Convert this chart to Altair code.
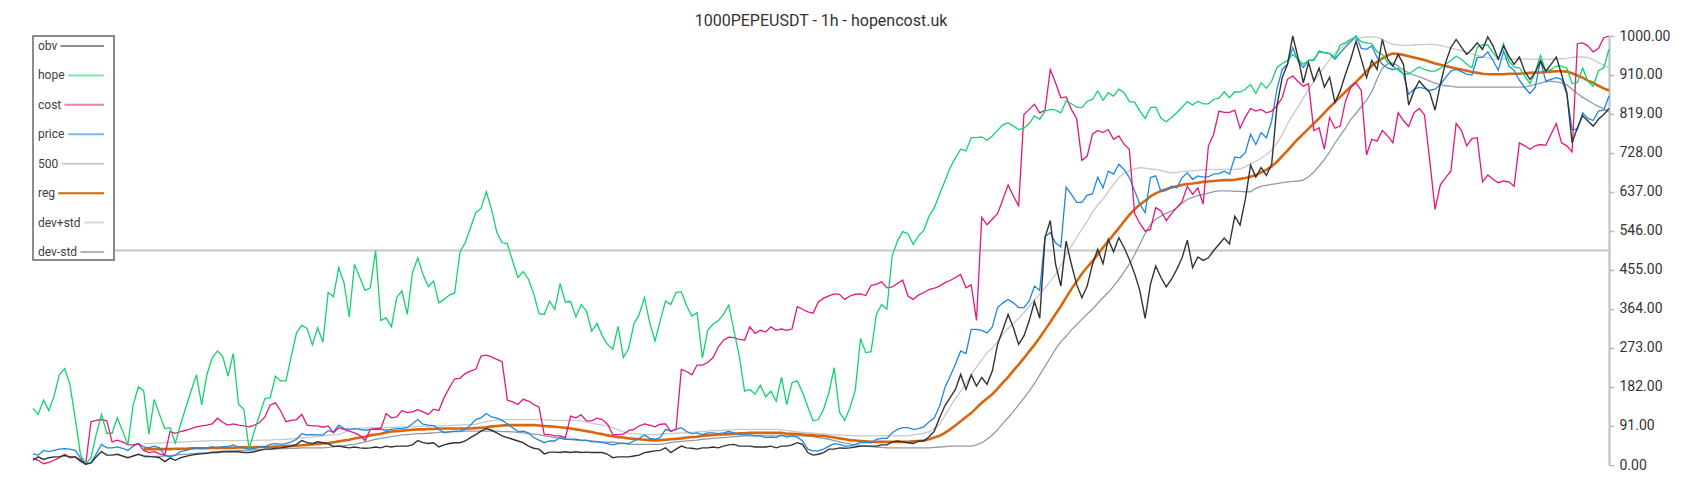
import altair as alt
import pandas as pd

TITLE = "1000PEPEUSDT - 1h - hopencost.uk"

obv = [
    11, 19, 13, 17, 19, 19, 22, 19, 19, 9,
    2, 5, 19, 31, 23, 23, 25, 21, 17, 21,
    25, 21, 20, 19, 17, 8, 16, 11, 17, 20,
    23, 25, 26, 27, 29, 29, 31, 31, 31, 31,
    29, 29, 31, 34, 37, 37, 39, 40, 42, 44,
    48, 57, 52, 50, 54, 52, 50, 43, 44, 42,
    40, 42, 40, 39, 40, 42, 40, 44, 42, 44,
    44, 44, 47, 57, 52, 50, 52, 42, 47, 50,
    52, 52, 56, 64, 71, 79, 85, 81, 75, 68,
    64, 60, 56, 52, 44, 39, 37, 26, 30, 30,
    29, 31, 29, 31, 29, 30, 29, 29, 29, 25,
    17, 19, 19, 19, 21, 23, 29, 31, 33, 34,
    40, 29, 37, 44, 40, 39, 37, 40, 40, 42,
    40, 44, 47, 48, 44, 44, 44, 42, 42, 42,
    44, 40, 44, 44, 47, 52, 48, 29, 23, 25,
    29, 37, 37, 40, 39, 40, 42, 44, 44, 44,
    44, 47, 47, 54, 56, 54, 52, 50, 56, 56,
    66, 79, 110, 138, 157, 176, 211, 176, 210, 184,
    204, 188, 219, 281, 316, 351, 320, 281, 301, 336,
    381, 342, 530, 570, 468, 417, 522, 468, 421, 390,
    417, 468, 503, 469, 526, 497, 530, 507, 479, 446,
    406, 342, 421, 464, 437, 415, 433, 456, 483, 524,
    460, 485, 477, 483, 500, 514, 529, 515, 580, 559,
    619, 699, 671, 693, 675, 701, 837, 903, 934, 1000,
    950, 891, 938, 895, 925, 881, 904, 845, 872, 911,
    946, 988, 946, 903, 943, 922, 992, 946, 930, 957,
    934, 839, 872, 895, 881, 868, 827, 887, 938, 973,
    992, 974, 957, 969, 984, 969, 998, 977, 946, 977,
    953, 934, 951, 918, 899, 915, 942, 918, 934, 951,
    911, 868, 751, 786, 814, 802, 790, 806, 817, 831,
]

hope = [
    132, 118, 151, 127, 161, 210, 225, 188, 110, 25,
    2, 17, 72, 118, 74, 74, 110, 79, 47, 140,
    182, 173, 72, 153, 118, 85, 87, 51, 95, 134,
    173, 210, 140, 211, 250, 266, 253, 207, 260, 141,
    130, 37, 79, 118, 155, 157, 207, 196, 196, 254,
    308, 326, 318, 280, 320, 286, 402, 392, 460, 425,
    345, 468, 437, 407, 413, 500, 337, 343, 322, 390,
    406, 351, 448, 483, 444, 416, 429, 378, 386, 396,
    401, 496, 518, 553, 588, 598, 637, 596, 542, 518,
    516, 475, 437, 451, 433, 399, 353, 351, 382, 363,
    423, 380, 381, 345, 374, 359, 312, 330, 301, 281,
    270, 323, 251, 271, 328, 351, 390, 332, 289, 336,
    382, 374, 402, 404, 371, 347, 355, 249, 314, 328,
    336, 351, 373, 312, 254, 172, 176, 165, 186, 159,
    172, 149, 205, 141, 192, 196, 169, 135, 103, 106,
    130, 169, 227, 124, 104, 134, 174, 295, 262, 264,
    351, 374, 363, 487, 522, 544, 539, 514, 534, 547,
    580, 600, 631, 662, 693, 716, 736, 732, 763, 763,
    765, 757, 767, 780, 793, 798, 790, 782, 785, 796,
    814, 806, 825, 829, 827, 821, 848, 842, 834, 833,
    848, 852, 872, 850, 868, 860, 876, 868, 847, 846,
    825, 808, 833, 834, 808, 800, 810, 821, 834, 847,
    839, 848, 842, 842, 852, 855, 870, 856, 870, 869,
    876, 887, 866, 891, 878, 895, 926, 936, 943, 957,
    946, 934, 943, 945, 963, 961, 959, 951, 979, 984,
    992, 998, 986, 984, 982, 963, 957, 938, 930, 920,
    912, 911, 920, 928, 922, 918, 918, 925, 934, 943,
    953, 946, 934, 926, 974, 979, 979, 961, 946, 982,
    942, 928, 926, 907, 889, 915, 955, 918, 922, 930,
    930, 925, 889, 891, 925, 895, 883, 919, 926, 969,
]

cost = [
    16, 11, 3, 6, 11, 17, 25, 17, 19, 13,
    2, 101, 104, 106, 103, 54, 58, 54, 47, 47,
    50, 34, 29, 31, 26, 23, 78, 74, 78, 81,
    85, 89, 91, 93, 96, 109, 99, 93, 96, 93,
    91, 89, 93, 99, 112, 140, 145, 126, 101, 104,
    106, 118, 93, 91, 91, 88, 91, 75, 87, 83,
    79, 75, 69, 57, 83, 85, 85, 120, 110, 112,
    127, 122, 124, 129, 124, 118, 130, 127, 157, 180,
    201, 202, 213, 219, 223, 254, 256, 252, 246, 241,
    151, 147, 141, 153, 149, 141, 135, 71, 71, 68,
    68, 64, 114, 110, 117, 103, 103, 109, 106, 95,
    71, 71, 72, 80, 83, 91, 96, 93, 89, 95,
    96, 78, 83, 223, 218, 210, 233, 233, 239, 250,
    275, 291, 298, 297, 293, 291, 322, 307, 314, 310,
    322, 314, 317, 314, 317, 369, 363, 357, 354, 380,
    389, 394, 399, 398, 386, 394, 398, 399, 395, 419,
    421, 427, 413, 415, 423, 431, 394, 386, 396, 402,
    409, 412, 417, 425, 430, 437, 444, 413, 420, 337,
    577, 560, 573, 586, 619, 653, 627, 604, 817, 829,
    841, 821, 827, 922, 891, 856, 858, 829, 808, 710,
    720, 771, 780, 775, 782, 759, 767, 748, 736, 586,
    563, 545, 549, 600, 592, 570, 586, 600, 614, 650,
    631, 646, 608, 744, 771, 825, 822, 822, 827, 785,
    811, 831, 825, 829, 821, 825, 837, 856, 899, 907,
    894, 883, 889, 779, 786, 736, 810, 785, 790, 848,
    880, 891, 873, 723, 759, 755, 780, 767, 751, 821,
    803, 789, 821, 831, 816, 709, 596, 653, 670, 685,
    796, 780, 744, 761, 763, 660, 676, 666, 658, 662,
    660, 650, 751, 744, 736, 744, 747, 745, 771, 796,
    751, 744, 730, 982, 984, 977, 963, 971, 996, 1000,
]

price = [
    26, 23, 34, 31, 34, 37, 38, 37, 34, 17,
    2, 5, 26, 48, 40, 40, 42, 39, 34, 44,
    50, 42, 40, 44, 40, 23, 19, 23, 31, 34,
    37, 40, 39, 40, 42, 40, 43, 43, 47, 42,
    40, 37, 39, 42, 42, 48, 50, 48, 50, 54,
    60, 73, 70, 71, 70, 70, 80, 77, 93, 85,
    83, 85, 83, 81, 83, 83, 83, 81, 83, 85,
    85, 87, 96, 106, 95, 93, 92, 83, 75, 77,
    79, 79, 83, 93, 106, 110, 120, 112, 109, 104,
    96, 87, 78, 79, 75, 64, 58, 52, 56, 56,
    64, 60, 60, 60, 58, 58, 54, 54, 52, 50,
    47, 50, 51, 50, 56, 62, 70, 62, 60, 64,
    83, 79, 83, 87, 78, 73, 75, 71, 75, 75,
    73, 75, 78, 75, 71, 70, 70, 68, 68, 64,
    65, 64, 70, 65, 68, 65, 56, 37, 33, 33,
    37, 44, 50, 48, 44, 44, 48, 52, 52, 52,
    60, 62, 62, 75, 83, 87, 87, 83, 85, 89,
    100, 110, 137, 180, 207, 235, 266, 260, 316, 316,
    314, 308, 322, 367, 378, 386, 378, 367, 367, 382,
    417, 407, 532, 542, 518, 508, 648, 631, 612, 612,
    629, 632, 671, 646, 685, 678, 701, 689, 670, 639,
    608, 588, 670, 674, 637, 640, 650, 646, 670, 681,
    666, 674, 671, 672, 678, 679, 685, 678, 718, 716,
    728, 771, 747, 775, 763, 802, 876, 922, 934, 973,
    942, 926, 943, 943, 965, 961, 959, 946, 961, 974,
    987, 1000, 971, 969, 977, 950, 934, 925, 922, 925,
    911, 864, 876, 880, 878, 873, 876, 887, 903, 918,
    922, 917, 911, 909, 950, 950, 963, 943, 920, 965,
    930, 920, 897, 880, 866, 880, 943, 895, 899, 903,
    899, 864, 782, 782, 821, 808, 803, 825, 827, 860,
]

# regression line and its bands start at this bar
REG_START = 21
reg = [
    37, 37, 37, 37, 37, 37,
    38, 38, 38, 39, 39, 39,
    39, 40, 40, 40, 40, 40, 41,
    41, 41, 41, 42, 42, 42,
    43, 43, 44, 45, 45, 46,
    47, 48, 49, 50, 51,
    53, 55, 57, 59, 62, 64, 66, 69, 71, 73, 76, 78, 79,
    80, 81, 82, 83, 83, 84, 84, 85, 85, 85, 85, 85, 85, 85,
    86, 87, 88, 90, 91, 92, 93, 93, 93, 93, 93, 93,
    92, 91, 90, 89, 88, 87, 85, 83, 81, 79, 77, 74, 72, 69, 67, 65,
    64, 62, 61, 60, 59, 58, 57,
    58, 59, 60, 61, 62, 64, 65, 66, 68, 69, 70, 71, 71, 72, 73, 74, 74,
    75, 75, 75, 75, 75, 75, 75,
    73, 73, 72, 71, 70, 69, 68, 68, 66, 64, 62, 60, 58, 57, 56, 55, 54,
    54, 54, 54, 54, 54, 54, 54,
    55, 56, 57, 60, 64, 68, 75, 83, 92, 102, 112, 121, 133,
    145, 155, 165, 178, 192, 205, 220, 234, 249, 265,
    280, 297, 315, 333, 352, 370, 390, 410, 428, 446,
    461, 475, 491, 507, 522, 537, 552, 568, 583, 596,
    607, 616, 626, 633, 639, 643, 647, 650, 653,
    655, 656, 658, 660, 661, 662, 663, 664, 664, 665,
    667, 669, 672, 676, 682, 688, 696, 707, 720, 733,
    747, 760, 772, 784, 796, 808, 821, 834, 846, 858,
    870, 882, 893, 905, 918, 930, 940, 948, 955, 959,
    958, 956, 953, 950, 947, 944, 940, 936, 933, 930,
    927, 924, 922, 919, 916, 914, 912, 911, 911, 911,
    911, 912, 912, 912, 913, 914, 915, 915, 916, 917,
    918, 918, 917, 913, 908, 903, 896, 891, 884, 878,
    873,
]

dev_plus = [
    50, 50, 51, 51, 52, 52, 53, 53, 54, 55,
    55, 56, 56, 57, 57, 57, 57, 57, 57, 57,
    57, 57, 58, 58, 58, 59, 59, 60, 61, 62,
    63, 64, 65, 66, 68, 69, 70, 71, 76, 81,
    85, 86, 86, 87, 87, 87, 87, 88, 88, 89,
    89, 89, 90, 90, 90, 91, 91, 92, 92, 93,
    93, 94, 94, 95, 98, 101, 103, 105, 106, 106,
    106, 106, 106, 106, 106, 105, 105, 105, 104, 104,
    104, 104, 104, 103, 100, 97, 95, 93, 91, 87,
    82, 77, 74, 73, 72, 71, 71, 71, 72, 73,
    73, 74, 75, 75, 76, 77, 78, 79, 80, 80,
    81, 82, 82, 83, 83, 83, 83, 83, 83, 83,
    83, 82, 80, 79, 77, 76, 75, 74, 73, 72,
    71, 70, 70, 69, 69, 68, 68, 68, 68, 68,
    68, 68, 68, 68, 68, 68, 70, 72, 74, 78,
    85, 95, 115, 135, 155, 172, 190, 210, 228, 245,
    262, 272, 288, 305, 318, 330, 342, 355, 370, 385,
    398, 413, 428, 444, 465, 490, 510, 530, 550, 568,
    590, 606, 620, 637, 654, 670, 680, 686, 690, 693,
    692, 690, 689, 686, 683, 681, 682, 684, 685, 686,
    687, 688, 689, 689, 689, 689, 689, 689, 690, 695,
    702, 708, 715, 724, 734, 750, 770, 795, 815, 835,
    855, 875, 893, 910, 928, 945, 960, 970, 980, 988,
    993, 996, 998, 998, 997, 992, 985, 981, 979, 978,
    978, 979, 980, 980, 981, 980, 978, 975, 972, 969,
    966, 962, 958, 955, 952, 949, 946, 946, 946, 946,
    946, 946, 946, 946, 946, 946, 946, 946, 947, 947,
    948, 950, 951, 951, 950, 945, 938, 932, 926,
]

dev_minus = [
    19, 19, 20, 20, 21, 22, 23, 24, 25, 26,
    27, 28, 29, 30, 31, 32, 33, 33, 34, 34,
    35, 35, 36, 36, 37, 37, 38, 38, 39, 39,
    40, 40, 40, 40, 40, 41, 43, 44, 45, 47,
    48, 51, 54, 57, 60, 62, 64, 66, 68, 70,
    71, 72, 73, 73, 74, 75, 76, 77, 77, 78,
    78, 79, 79, 79, 79, 79, 79, 79, 78, 78,
    77, 76, 75, 73, 72, 71, 68, 66, 64, 62,
    60, 59, 58, 57, 57, 56, 55, 54, 53, 53,
    52, 50, 49, 48, 48, 48, 48, 48, 48, 50,
    52, 54, 55, 56, 57, 58, 60, 61, 62, 63,
    64, 65, 66, 67, 68, 68, 68, 68, 68, 68,
    68, 68, 68, 68, 68, 68, 67, 66, 64, 62,
    60, 57, 54, 51, 49, 47, 45, 44, 43, 42,
    41, 40, 40, 40, 40, 40, 40, 40, 40, 40,
    41, 42, 43, 44, 44, 44, 44, 44, 47, 52,
    60, 70, 82, 97, 110, 125, 140, 156, 172, 190,
    210, 230, 250, 270, 287, 300, 315, 327, 340, 352,
    363, 377, 390, 402, 417, 432, 450, 468, 490, 515,
    540, 560, 573, 580, 587, 592, 600, 610, 619, 624,
    628, 631, 634, 637, 639, 639, 639, 638, 638, 637,
    637, 645, 650, 652, 654, 656, 658, 660, 661, 662,
    664, 672, 683, 697, 712, 730, 750, 768, 785, 805,
    820, 835, 850, 870, 900, 925, 935, 937, 930, 920,
    914, 909, 905, 900, 895, 890, 887, 884, 883, 881,
    881, 881, 881, 881, 881, 881, 881, 881, 881, 881,
    881, 881, 881, 884, 887, 890, 893, 895, 893, 891,
    886, 876, 866, 857, 850, 842, 836, 830, 823,
]

LEVEL = 500
Y_TICKS = [0, 91, 182, 273, 364, 455, 546, 637, 728, 819, 910, 1000]
LEGEND_NAMES = ["obv", "hope", "cost", "price", "500", "reg", "dev+std", "dev-std"]

# styling
COL = {
    "obv": "#333333", "hope": "#12d36c", "cost": "#e5177f", "price": "#1f87e2",
    "500": "#c8c8c8", "reg": "#d9660e", "dev+std": "#c4cace", "dev-std": "#8f9ca7",
}
SWATCH = {
    "obv": "#8f8f8f", "hope": "#7fe6ad", "cost": "#f07cb6", "price": "#7ab7ee",
    "500": "#cccccc", "reg": "#d2660e", "dev+std": "#d6dadd", "dev-std": "#aeb7be",
}

n = len(obv)
assert len(hope) == n and len(cost) == n and len(price) == n, (len(hope), len(cost), len(price))
for s in (reg, dev_plus, dev_minus):
    assert len(s) == n - REG_START, len(s)

pad = [float("nan")] * REG_START
df = pd.DataFrame({
    "idx": list(range(n)),
    "obv": obv, "hope": hope, "cost": cost, "price": price,
    "reg": pad + reg, "devp": pad + dev_plus, "devm": pad + dev_minus,
})

xs = alt.X("idx:Q", axis=None, scale=alt.Scale(domain=[0, n - 1], nice=False, zero=False))
ysc = alt.Scale(domain=[0, 1000], nice=False, zero=True)
yaxis = alt.Axis(
    orient="right", values=Y_TICKS, format=".2f", title=None, grid=False,
    domainColor="#b5bdc5", domainWidth=2, tickColor="#b5bdc5", tickSize=5, tickWidth=1.5,
    labelFont="Roboto", labelFontSize=14, labelColor="#333333", labelPadding=5,
    labelFlush=False, labelOverlap=False,
)

level = alt.Chart(pd.DataFrame({"level": [LEVEL]})).mark_rule(
    color=COL["500"], strokeWidth=2
).encode(y=alt.Y("level:Q", scale=ysc, axis=yaxis))


def line(field, color, width):
    return alt.Chart(df).mark_line(color=color, strokeWidth=width).encode(
        x=xs, y=alt.Y(f"{field}:Q", scale=ysc, axis=yaxis)
    )


layers = [
    level,
    line("devp", COL["dev+std"], 1.3),
    line("devm", COL["dev-std"], 1.3),
    line("reg", COL["reg"], 2.6),
    line("price", COL["price"], 1.3),
    line("cost", COL["cost"], 1.3),
    line("hope", COL["hope"], 1.3),
    line("obv", COL["obv"], 1.4),
]

# legend box drawn inside the plot, top-left (label first, swatch after)
BOX_W, BOX_H = 81, 224
ROW0, ROW_STEP = 10, 29.43
one = pd.DataFrame({"k": [0]})
layers.append(alt.Chart(one).mark_rect(fill="white", stroke="#8c8c8c", strokeWidth=2).encode(
    x=alt.value(0), x2=alt.value(BOX_W), y=alt.value(0), y2=alt.value(BOX_H)))
for k, name in enumerate(LEGEND_NAMES):
    ry = ROW0 + k * ROW_STEP
    layers.append(alt.Chart(one).mark_rule(color=SWATCH[name], strokeWidth=2).encode(
        x=alt.value(5), x2=alt.value(71), y=alt.value(ry)))
    layers.append(alt.Chart(one).mark_text(
        align="left", baseline="middle", font="Roboto", fontSize=12, text=name,
        fill="white", stroke="white", strokeWidth=8, strokeJoin="round"
    ).encode(x=alt.value(5), y=alt.value(ry)))
    layers.append(alt.Chart(one).mark_text(
        align="left", baseline="middle", font="Roboto", fontSize=12, text=name, fill="#404040"
    ).encode(x=alt.value(5), y=alt.value(ry)))
layers.append(alt.Chart(one).mark_rect(fill="white", fillOpacity=0, stroke="#8c8c8c", strokeWidth=2).encode(
    x=alt.value(0), x2=alt.value(BOX_W), y=alt.value(0), y2=alt.value(BOX_H)))

chart = alt.layer(*layers).properties(
    width=1576, height=429,
    title=alt.TitleParams(TITLE, font="Roboto", fontSize=16, fontWeight="normal",
                          color="#333333", anchor="middle", offset=0),
    padding={"left": 22, "top": 5, "right": 5, "bottom": 5},
).configure(font="Roboto").configure_view(strokeWidth=0)

chart.save("out.html", embed_options={"renderer": "svg", "actions": False})
